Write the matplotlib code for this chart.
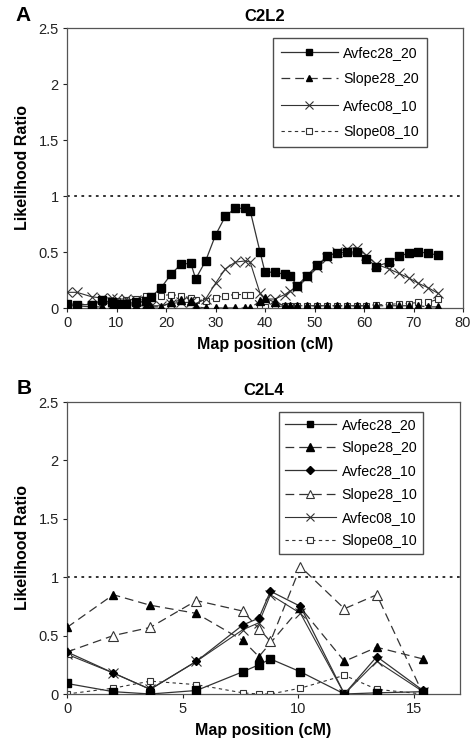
import matplotlib
matplotlib.use("Agg")
import matplotlib.pyplot as plt
import numpy as np

plt.rcParams['font.family'] = ['Liberation Sans', 'DejaVu Sans']

# ---------------- Panel A: C2L2 ----------------
pos_A = [0, 2, 5, 7, 9, 10, 12, 14, 16, 17, 19, 21, 23, 25, 26, 28, 30, 32, 34, 36, 37,
         39, 40, 42, 44, 45, 46.5, 48.5, 50.5, 52.5, 54.5, 56.5, 58.5, 60.5, 62.5, 65,
         67, 69, 71, 73, 75]
A_avfec28_20 = [0.04, 0.03, 0.03, 0.07, 0.05, 0.04, 0.04, 0.05, 0.06, 0.10, 0.18, 0.30, 0.39,
                0.40, 0.26, 0.42, 0.65, 0.82, 0.89, 0.89, 0.87, 0.50, 0.32, 0.32, 0.30, 0.29,
                0.20, 0.29, 0.38, 0.46, 0.49, 0.50, 0.50, 0.44, 0.37, 0.41, 0.46, 0.49, 0.50,
                0.49, 0.47]
A_slope28_20 = [0.02, 0.02, 0.01, 0.01, 0.01, 0.02, 0.02, 0.02, 0.02, 0.01, 0.01, 0.05, 0.07,
                0.06, 0.01, 0.00, 0.00, 0.00, 0.00, 0.00, 0.00, 0.06, 0.09, 0.05, 0.02, 0.02,
                0.02, 0.02, 0.02, 0.02, 0.02, 0.02, 0.02, 0.02, 0.02, 0.02, 0.02, 0.02, 0.02,
                0.01, 0.01]
A_avfec08_10 = [0.14, 0.14, 0.10, 0.09, 0.09, 0.08, 0.08, 0.07, 0.04, 0.02, 0.02, 0.04, 0.05,
                0.05, 0.04, 0.08, 0.22, 0.35, 0.41, 0.42, 0.41, 0.13, 0.08, 0.08, 0.12, 0.15,
                0.19, 0.28, 0.37, 0.45, 0.50, 0.53, 0.54, 0.47, 0.39, 0.35, 0.31, 0.27, 0.22,
                0.18, 0.13]
A_slope08_10 = [0.04, 0.03, 0.04, 0.05, 0.06, 0.06, 0.07, 0.08, 0.11, 0.11, 0.11, 0.12, 0.11,
                0.09, 0.07, 0.06, 0.09, 0.11, 0.12, 0.12, 0.12, 0.02, 0.01, 0.01, 0.02, 0.02,
                0.02, 0.02, 0.02, 0.02, 0.02, 0.02, 0.02, 0.02, 0.03, 0.03, 0.04, 0.04, 0.05,
                0.05, 0.08]

# ---------------- Panel B: C2L4 ----------------
pos_B = [0, 2.0, 3.6, 5.6, 7.6, 8.3, 8.8, 10.1, 12.0, 13.4, 15.4]
pos_B_slope28_20 = [0, 2.0, 3.6, 5.6, 7.6, 8.3, 10.1, 12.0, 13.4, 15.4]
B_avfec28_20 = [0.09, 0.02, 0.00, 0.03, 0.19, 0.25, 0.30, 0.19, 0.00, 0.01, 0.02]
B_slope28_20 = [0.57, 0.85, 0.76, 0.69, 0.46, 0.32, 0.74, 0.28, 0.40, 0.30]
B_avfec28_10 = [0.36, 0.18, 0.04, 0.28, 0.59, 0.65, 0.88, 0.75, 0.00, 0.32, 0.03]
B_slope28_10 = [0.36, 0.50, 0.57, 0.80, 0.71, 0.56, 0.45, 1.09, 0.73, 0.85, 0.00]
B_avfec08_10 = [0.34, 0.18, 0.04, 0.28, 0.55, 0.61, 0.85, 0.69, 0.00, 0.28, 0.02]
B_slope08_10 = [0.00, 0.05, 0.11, 0.08, 0.01, 0.00, 0.00, 0.05, 0.16, 0.04, 0.00]

threshold = 1.0
y_ticks = [0, 0.5, 1, 1.5, 2, 2.5]
y_labels = ['0', '0.5', '1', '1.5', '2', '2.5']

LC = '#333333'
long_dash = (0, (7, 4))
short_dash = (0, (3, 3))

fig = plt.figure(figsize=(4.70, 7.42), dpi=100)
axA = fig.add_axes([67/470, 1-308/742, 396/470, 280/742])
axB = fig.add_axes([67/470, 1-694/742, 393/470, 292/742])


def style(ax, xlim, xticks, title, letter):
    ax.set_xlim(*xlim)
    ax.set_ylim(0, 2.5)
    ax.set_yticks(y_ticks)
    ax.set_yticklabels(y_labels)
    ax.set_xticks(xticks)
    ax.tick_params(axis='both', direction='out', length=3, width=0.8,
                   labelsize=10.5, colors='#222222', pad=3)
    for s in ax.spines.values():
        s.set_color('#555555')
        s.set_linewidth(0.9)
    ax.axhline(threshold, color='#222222', linestyle=(0, (1.5, 2.5)), linewidth=1.3, zorder=1)
    ax.set_xlabel('Map position (cM)', fontsize=11.5, fontweight='bold', labelpad=5)
    ax.set_ylabel('Likelihood Ratio', fontsize=11.5, fontweight='bold', labelpad=6)
    ax.set_title(title, fontsize=12, fontweight='bold', pad=5)
    ax.text(-0.11, 1.045, letter, transform=ax.transAxes, fontsize=15,
            fontweight='bold', ha='center', va='center')


# Panel A
axA.plot(pos_A, A_avfec28_20, color=LC, lw=0.9, marker='s', ms=5.5,
         mfc='black', mec='black', label='Avfec28_20', zorder=5)
axA.plot(pos_A, A_slope28_20, color=LC, lw=0.9, ls=long_dash, marker='^', ms=5.5,
         mfc='black', mec='black', label='Slope28_20', zorder=4)
axA.plot(pos_A, A_avfec08_10, color=LC, lw=0.8, marker='x', ms=6.5, mew=0.8,
         mec=LC, label='Avfec08_10', zorder=3)
axA.plot(pos_A, A_slope08_10, color=LC, lw=0.8, ls=short_dash, marker='s', ms=5,
         mfc='white', mec=LC, mew=0.8, label='Slope08_10', zorder=2)
style(axA, (0, 80), range(0, 81, 10), 'C2L2', 'A')
legA = axA.legend(loc='upper left', bbox_to_anchor=(0.503, 0.99), fontsize=10.2,
                  handlelength=4.0, labelspacing=0.88, borderpad=0.55,
                  frameon=True, fancybox=False, edgecolor='#222222',
                  handletextpad=0.4, markerscale=0.85)
legA.get_frame().set_linewidth(1.0)

# Panel B
axB.plot(pos_B, B_avfec28_20, color=LC, lw=0.9, marker='s', ms=5.5,
         mfc='black', mec='black', label='Avfec28_20', zorder=5)
axB.plot(pos_B_slope28_20, B_slope28_20, color=LC, lw=0.9, ls=long_dash, marker='^', ms=6,
         mfc='black', mec='black', label='Slope28_20', zorder=4)
axB.plot(pos_B, B_avfec28_10, color=LC, lw=0.9, marker='D', ms=4.5,
         mfc='black', mec='black', label='Avfec28_10', zorder=5)
axB.plot(pos_B, B_slope28_10, color=LC, lw=0.9, ls=long_dash, marker='^', ms=6.5,
         mfc='white', mec=LC, mew=0.8, label='Slope28_10', zorder=4)
axB.plot(pos_B, B_avfec08_10, color=LC, lw=0.8, marker='x', ms=6.5, mew=0.8,
         mec=LC, label='Avfec08_10', zorder=3)
axB.plot(pos_B, B_slope08_10, color=LC, lw=0.8, ls=short_dash, marker='s', ms=5,
         mfc='white', mec=LC, mew=0.8, label='Slope08_10', zorder=2)
style(axB, (0, 17), [0, 5, 10, 15], 'C2L4', 'B')
legB = axB.legend(loc='upper left', bbox_to_anchor=(0.522, 0.99), fontsize=10.2,
                  handlelength=3.6, labelspacing=0.66, borderpad=0.4,
                  frameon=True, fancybox=False, edgecolor='#222222',
                  handletextpad=0.4, markerscale=0.85)
legB.get_frame().set_linewidth(1.0)

fig.savefig('out.png', dpi=100)
